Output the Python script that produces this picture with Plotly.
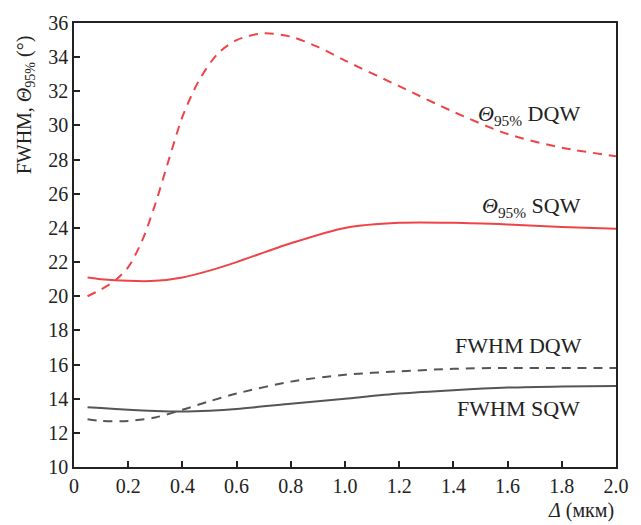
import plotly.graph_objects as go

x_theta_dqw = [0.05, 0.1, 0.15, 0.2, 0.25, 0.3, 0.35, 0.4, 0.46, 0.53, 0.6, 0.7, 0.8, 0.9, 1.0, 1.2, 1.4, 1.6, 1.8, 2.0]
theta_dqw = [20.0, 20.4, 20.9, 21.7, 23.2, 25.4, 28.0, 30.5, 32.6, 34.2, 35.0, 35.4, 35.2, 34.6, 33.8, 32.3, 30.8, 29.5, 28.7, 28.2]

x_common = [0.05, 0.1, 0.2, 0.3, 0.4, 0.5, 0.6, 0.8, 1.0, 1.2, 1.4, 1.6, 1.8, 2.0]
theta_sqw = [21.1, 21.0, 20.9, 20.9, 21.1, 21.5, 22.0, 23.1, 24.0, 24.3, 24.3, 24.2, 24.05, 23.95]
fwhm_dqw = [12.8, 12.7, 12.7, 12.9, 13.35, 13.85, 14.3, 15.0, 15.4, 15.6, 15.75, 15.8, 15.8, 15.8]
fwhm_sqw = [13.5, 13.45, 13.35, 13.28, 13.25, 13.3, 13.4, 13.7, 14.0, 14.3, 14.5, 14.65, 14.72, 14.75]

x_ticks = [0, 0.2, 0.4, 0.6, 0.8, 1.0, 1.2, 1.4, 1.6, 1.8, 2.0]
x_tick_text = ["0", "0.2", "0.4", "0.6", "0.8", "1.0", "1.2", "1.4", "1.6", "1.8", "2.0"]
y_ticks = list(range(10, 37, 2))

RED = "#ee4448"
GRAY = "#555555"
FONT = "Liberation Serif"
TXT = "#222222"

fig = go.Figure()
fig.add_trace(go.Scatter(x=x_theta_dqw, y=theta_dqw, mode="lines",
                         line=dict(color=RED, width=2, dash="9px,7px", shape="spline", smoothing=0.8)))
fig.add_trace(go.Scatter(x=x_common, y=theta_sqw, mode="lines",
                         line=dict(color=RED, width=2, shape="spline", smoothing=0.8)))
fig.add_trace(go.Scatter(x=x_common, y=fwhm_dqw, mode="lines",
                         line=dict(color=GRAY, width=2, dash="9px,7px", shape="spline", smoothing=0.8)))
fig.add_trace(go.Scatter(x=x_common, y=fwhm_sqw, mode="lines",
                         line=dict(color=GRAY, width=2, shape="spline", smoothing=0.8)))

ann_font = dict(family=FONT, size=22, color=TXT)
fig.add_annotation(x=1.68, y=30.6, text="<i>Θ</i><sub>95%</sub> DQW", showarrow=False, font=ann_font)
fig.add_annotation(x=1.69, y=25.2, text="<i>Θ</i><sub>95%</sub> SQW", showarrow=False, font=ann_font)
fig.add_annotation(x=1.64, y=17.1, text="FWHM DQW", showarrow=False, font=ann_font)
fig.add_annotation(x=1.64, y=13.4, text="FWHM SQW", showarrow=False, font=ann_font)
fig.add_annotation(x=1.0, xref="paper", xanchor="right", y=-0.097, yref="paper", yanchor="middle",
                   text="<i>Δ</i> (мкм)", showarrow=False, font=dict(family=FONT, size=20, color=TXT))
fig.add_annotation(x=-0.09, xref="paper", xanchor="center", y=0.815, yref="paper", yanchor="middle",
                   text="FWHM, <i>Θ</i><sub>95%</sub> (°)", textangle=-90, showarrow=False,
                   font=dict(family=FONT, size=20, color=TXT))

axis_common = dict(showline=True, linecolor=TXT, linewidth=1.5, mirror=True,
                   ticks="inside", ticklen=6, tickwidth=1.5, tickcolor=TXT,
                   showgrid=False, zeroline=False,
                   tickfont=dict(family=FONT, size=20, color=TXT))
fig.update_xaxes(range=[0, 2.0], tickvals=x_ticks, ticktext=x_tick_text, **axis_common)
fig.update_yaxes(range=[10, 36], tickvals=y_ticks, **axis_common)

fig.update_layout(width=641, height=525, showlegend=False,
                  margin=dict(l=74, r=19, t=17, b=58),
                  plot_bgcolor="white", paper_bgcolor="white")
fig.write_html("out.html")
